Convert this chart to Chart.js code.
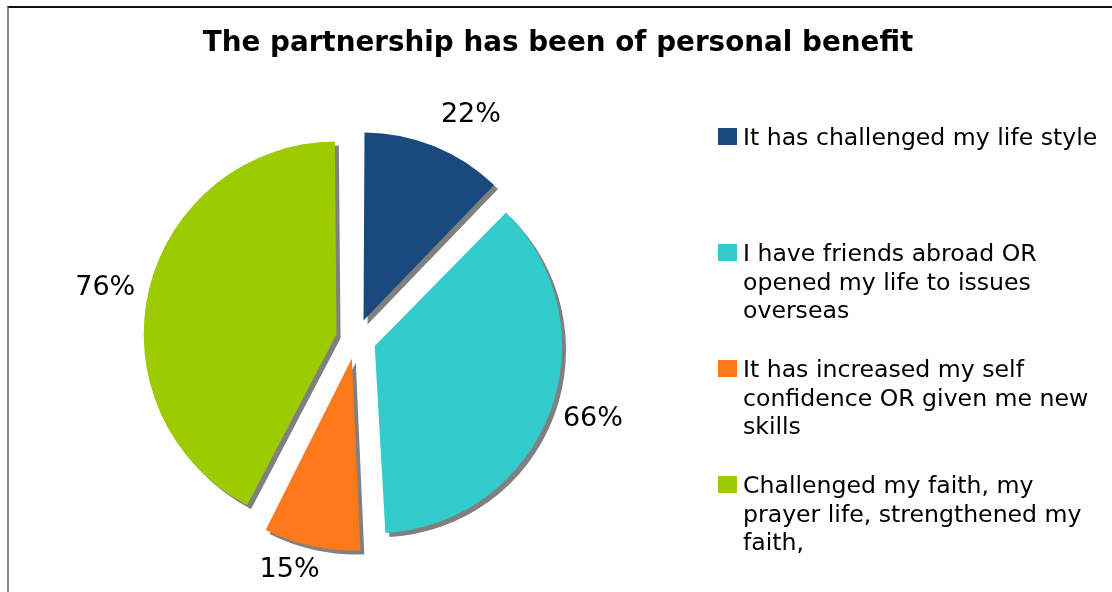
<!DOCTYPE html>
<html>
<head>
<meta charset="utf-8">
<script src="https://cdn.jsdelivr.net/npm/chart.js@4/dist/chart.umd.min.js"></script>
<style>
    body { margin: 0; background: #fff; font-family: "DejaVu Sans", Verdana, sans-serif; }
    #wrap { position: relative; width: 1112px; height: 592px; overflow: hidden; }
    #frame { position: absolute; left: 7px; top: 6px; right: -10px; bottom: -10px;
             border-top: 2px solid #111; border-left: 2px solid #8a8a8a; }
    #myChart { position: absolute; left: 0; top: 0; }
    #title { position: absolute; left: 0; width: 1116px; top: 28px; text-align: center;
             font-size: 27.8px; line-height: 28px; font-weight: bold; color: #000; }
    #legend { position: absolute; left: 718px; top: 123px; }
    .item { position: relative; height: 116px; }
    .box { position: absolute; left: 0; top: 5px; width: 19px; height: 17px; }
    .txt { position: absolute; left: 25px; top: 0; font-size: 23.6px; line-height: 28.5px;
           color: #000; white-space: nowrap; }
</style>
</head>
<body>
<div id="wrap">
    <div id="frame"></div>
    <canvas id="myChart" width="1112" height="592"></canvas>
    <div id="title"></div>
    <div id="legend"></div>
</div>
<script>
const chartTitle = 'The partnership has been of personal benefit';
const categories = [
    ['It has challenged my life style'],
    ['I have friends abroad OR', 'opened my life to issues', 'overseas'],
    ['It has increased my self', 'confidence OR given me new', 'skills'],
    ['Challenged my faith, my', 'prayer life, strengthened my', 'faith,']
];
const percentages = [22, 66, 15, 76];
const colors = ['#194a7d', '#33cccc', '#fe781c', '#9bcb00'];

document.getElementById('title').textContent = chartTitle;

function buildLegend() {
    const legend = document.getElementById('legend');
    categories.forEach((lines, i) => {
        const item = document.createElement('div');
        item.className = 'item';
        const box = document.createElement('div');
        box.className = 'box';
        box.style.background = colors[i];
        const txt = document.createElement('div');
        txt.className = 'txt';
        txt.innerHTML = lines.join('<br>');
        item.appendChild(box);
        item.appendChild(txt);
        legend.appendChild(item);
    });
}

// grey drop shadow under the slices
const shadowPlugin = {
    id: 'sliceShadow',
    beforeDatasetsDraw(chart) {
        const ctx = chart.ctx;
        ctx.save();
        ctx.shadowColor = '#808080';
        ctx.shadowOffsetX = 4;
        ctx.shadowOffsetY = 4;
        ctx.shadowBlur = 0;
    },
    afterDatasetsDraw(chart) {
        chart.ctx.restore();
    }
};

// percentage labels outside the slices
const pctLabels = {
    id: 'pctLabels',
    afterDraw(chart, args, opts) {
        const ctx = chart.ctx;
        const meta = chart.getDatasetMeta(0);
        ctx.save();
        ctx.font = opts.font;
        ctx.fillStyle = '#000';
        ctx.textAlign = 'center';
        ctx.textBaseline = 'middle';
        meta.data.forEach((arc, i) => {
            const p = arc.getProps(['x', 'y', 'startAngle', 'endAngle'], true);
            const mid = (p.startAngle + p.endAngle) / 2 + opts.nudge[i] * Math.PI / 180;
            const r = opts.distance[i];
            ctx.fillText(percentages[i] + '%', p.x + Math.cos(mid) * r, p.y + Math.sin(mid) * r);
        });
        ctx.restore();
    }
};

function drawChart() {
    const ctx = document.getElementById('myChart').getContext('2d');
    new Chart(ctx, {
        type: 'pie',
        data: {
            labels: categories.map(l => l.join(' ')),
            datasets: [{
                data: percentages,
                backgroundColor: colors,
                borderWidth: 0,
                offset: 80
            }]
        },
        options: {
            responsive: false,
            devicePixelRatio: 1,
            animation: false,
            radius: 182,
            layout: { padding: { left: 156, right: 556, top: 139, bottom: 53 } },
            plugins: {
                legend: { display: false },
                title: { display: false },
                tooltip: { enabled: false },
                pctLabels: {
                    font: '27px "DejaVu Sans", Verdana, sans-serif',
                    nudge: [5, -2, 4, -2],
                    distance: [252, 250, 240, 256]
                }
            }
        },
        plugins: [shadowPlugin, pctLabels]
    });
}

buildLegend();
drawChart();
</script>
</body>
</html>
